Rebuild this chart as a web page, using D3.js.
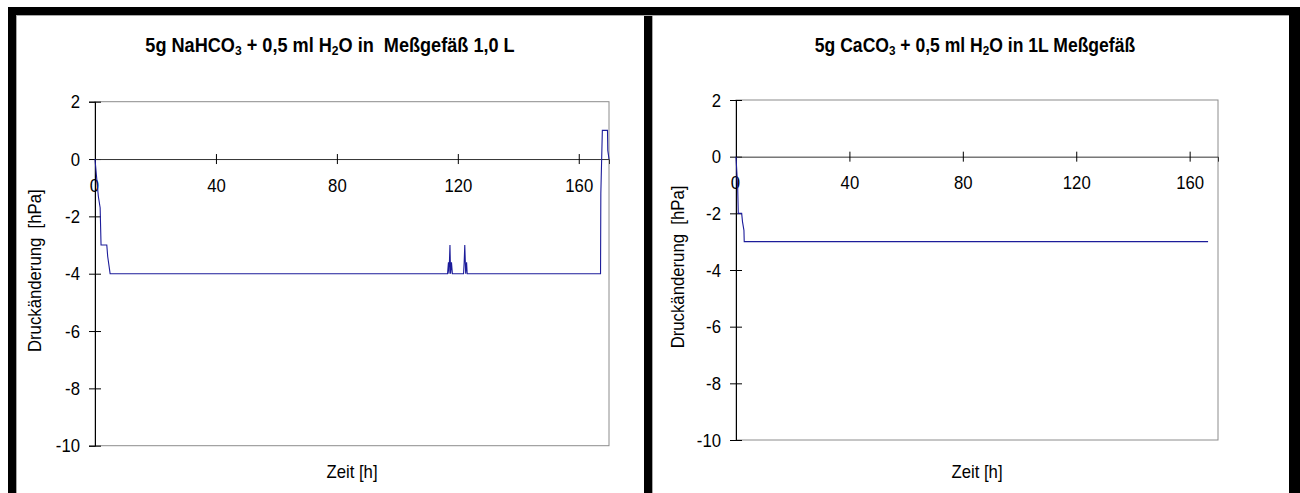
<!DOCTYPE html>
<head>
  <meta charset="utf-8">
  <script src="https://d3js.org/d3.v7.min.js"></script>
  <style type="text/css">
    body { margin: 0; background: #fff; }
    svg text { font-family: "Liberation Sans", Arial, sans-serif; fill: #000; }
    .title { font-weight: bold; font-size: 19.5px; }
    .tick-label { font-size: 19px; }
    .axis-title { font-size: 19px; }
  </style>
</head>
<body>
  <script type="text/javascript">
    // NaHCO3 run (left chart)
    var naTime  = [0, 0.5, 1.1, 1.7, 2.0, 3.9, 4.2, 5.0, 116.6, 116.9, 117.1, 117.4, 117.6, 117.9, 118.2,
                   121.9, 122.1, 122.3, 122.6, 122.9, 123.1, 167.2, 167.3, 167.8, 169.5, 169.6, 170.0];
    var naValue = [0, -0.6, -1.3, -1.7, -3, -3, -3.4, -4, -4, -3.6, -4, -3, -4, -3.6, -4,
                   -4, -3.6, -3, -4, -3.6, -4, -4, -1.2, 1, 1, 0.3, 0];

    // CaCO3 run (right chart)
    var caTime  = [0, 0.6, 0.8, 2.0, 2.3, 2.8, 2.9, 166.5];
    var caValue = [0, -1.1, -2, -2, -2.3, -2.6, -3, -3];

    var xTicks = [0, 40, 80, 120, 160];
    var yTicks = [2, 0, -2, -4, -6, -8, -10];
    var xMax = 170;
    var squeeze = 0.88;   // the original font is narrow

    var svg = d3.select("body").append("svg")
      .attr("width", 1300)
      .attr("height", 493);

    // frames
    var frame = svg.append("g");
    frame.append("rect").attr("x", 8).attr("y", 7).attr("width", 1292).attr("height", 8).attr("fill", "#000");
    frame.append("rect").attr("x", 8).attr("y", 7).attr("width", 8).attr("height", 486).attr("fill", "#000");
    frame.append("rect").attr("x", 644).attr("y", 7).attr("width", 8).attr("height", 486).attr("fill", "#000");
    frame.append("rect").attr("x", 1289).attr("y", 7).attr("width", 11).attr("height", 486).attr("fill", "#000");
    frame.append("line").attr("x1", 16.5).attr("x2", 16.5).attr("y1", 15).attr("y2", 493).attr("stroke", "#a8a8a8");
    frame.append("line").attr("x1", 652.5).attr("x2", 652.5).attr("y1", 15).attr("y2", 493).attr("stroke", "#a8a8a8");
    frame.append("line").attr("x1", 16).attr("x2", 1289).attr("y1", 15.5).attr("y2", 15.5).attr("stroke", "#a8a8a8");

    function condense(sel) {
      sel.each(function() {
        var len = this.getComputedTextLength();
        d3.select(this).attr("textLength", len * squeeze).attr("lengthAdjust", "spacingAndGlyphs");
      });
    }

    function drawPanel(p) {
      var x = d3.scaleLinear().domain([0, xMax]).range([p.left, p.right]);
      var y = d3.scaleLinear().domain([-10, 2]).range([p.bottom, p.top]);
      var g = svg.append("g");
      var fmt = function(d) { return String(d); };

      // plot border
      g.append("rect")
        .attr("x", p.left).attr("y", p.top)
        .attr("width", p.right - p.left).attr("height", p.bottom - p.top)
        .attr("fill", "none").attr("stroke", "#8c8c8c");

      // y axis
      var yAxis = d3.axisLeft(y).tickValues(yTicks).tickFormat(fmt).tickSize(6).tickPadding(9);
      var ya = g.append("g").attr("transform", "translate(" + p.left + ",0)").call(yAxis);
      ya.select(".domain").attr("stroke", "#000");
      ya.selectAll(".tick line").attr("x2", 6).attr("x1", -6).attr("stroke", "#000");
      ya.selectAll("text").attr("class", "tick-label");
      ya.attr("font-family", null).attr("font-size", null);

      // x axis at y = 0
      var xAxis = d3.axisBottom(x).tickValues(xTicks).tickFormat(fmt).tickSize(5).tickPadding(14);
      var xa = g.append("g").attr("transform", "translate(0," + y(0) + ")").call(xAxis);
      xa.select(".domain").attr("stroke", "#333");
      xa.selectAll(".tick line").attr("y1", -5).attr("y2", 5).attr("stroke", "#000");
      xa.selectAll("text").attr("class", "tick-label");
      xa.attr("font-family", null).attr("font-size", null);
      xa.selectAll(".tick").filter(function(d) { return d === 0; }).select("text").attr("x", -1);

      condense(ya.selectAll("text"));
      condense(xa.selectAll("text"));

      // series
      var pts = d3.zip(p.time, p.value);
      g.append("path")
        .datum(pts)
        .attr("fill", "none")
        .attr("stroke", "#1c1c9a")
        .attr("stroke-width", 1.1)
        .attr("d", d3.line().x(function(d) { return x(d[0]); }).y(function(d) { return y(d[1]); }));

      // title with subscripts
      var t = g.append("g")
        .attr("transform", "translate(" + p.titleX + ",52) scale(" + p.titleSqueeze + ",1)")
        .append("text").attr("class", "title")
        .attr("text-anchor", "middle");
      p.title.forEach(function(part) {
        var s = t.append("tspan").text(part[0]);
        if (part[1]) s.attr("font-size", "13px").attr("dy", 3);
        else s.attr("dy", part[2] || 0);
      });

      var yt = g.append("text").attr("class", "axis-title")
        .attr("transform", "translate(" + p.yTitleX + "," + ((p.top + p.bottom) / 2 - 3) + ") rotate(-90)")
        .attr("text-anchor", "middle")
        .attr("dy", "0.35em")
        .style("white-space", "pre")
        .text("Druckänderung  [hPa]");

      var xt = g.append("text").attr("class", "axis-title")
        .attr("x", p.xTitleX).attr("y", 478)
        .attr("text-anchor", "middle")
        .text("Zeit [h]");

      condense(yt);
      condense(xt);
    }

    drawPanel({
      left: 95, right: 609, top: 101.7, bottom: 445.7,
      time: naTime, value: naValue,
      titleX: 330, titleSqueeze: 0.93, yTitleX: 34, xTitleX: 352,
      title: [["5g NaHCO"], ["3", true], ["\u00a0+ 0,5 ml H", false, -3], ["2", true], ["O in \u00a0Meßgefäß 1,0 L", false, -3]]
    });

    drawPanel({
      left: 736, right: 1218, top: 100, bottom: 440,
      time: caTime, value: caValue,
      titleX: 975, titleSqueeze: 0.9, yTitleX: 677, xTitleX: 977,
      title: [["5g CaCO"], ["3", true], ["\u00a0+ 0,5 ml H", false, -3], ["2", true], ["O in 1L Meßgefäß", false, -3]]
    });
  </script>
</body>
